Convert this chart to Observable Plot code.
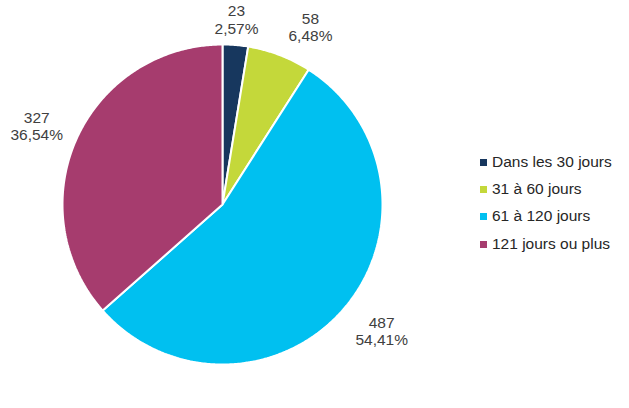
<!DOCTYPE html>
<html>
<head>
<meta charset="utf-8">
<script src="https://cdn.jsdelivr.net/npm/d3@7"></script>
<script src="https://cdn.jsdelivr.net/npm/@observablehq/plot@0.6"></script>
<style>
  html, body { margin: 0; padding: 0; background: #fff; }
  #wrap { position: relative; width: 629px; height: 408px; font-family: "Liberation Sans", Arial, sans-serif; }
  #legend { position: absolute; left: 480px; top: 148px; font-size: 15.5px; color: #262626; }
  #legend .row { display: flex; align-items: center; height: 27.3px; }
  #legend .sw { width: 7px; height: 7px; margin-right: 5px; margin-top: 1px; }
</style>
</head>
<body>
<div id="wrap"><div id="chart"></div><div id="legend"></div></div>
<script>
// Data
const categories = ["Dans les 30 jours", "31 à 60 jours", "61 à 120 jours", "121 jours ou plus"];
const counts = [23, 58, 487, 327];
const percents = ["2,57%", "6,48%", "54,41%", "36,54%"];
const colors = ["#17375e", "#c4d83a", "#00c0f0", "#a63c6e"];

// Layout (label placement: radius factor and angle shift in degrees)
const labelRadius = [1.16, 1.24, 1.27, 1.26];
const labelShift = [-0.3, 5.4, -2.1, -1.4];

const total = d3.sum(counts);
const polys = [];
const labels = [];
let acc = 0;
counts.forEach((v, i) => {
  const a0 = acc / total * 2 * Math.PI;
  acc += v;
  const a1 = acc / total * 2 * Math.PI;
  polys.push({k: categories[i], x: 0, y: 0});
  const n = Math.max(2, Math.ceil((a1 - a0) / 0.01));
  for (let j = 0; j <= n; j++) {
    const a = a0 + (a1 - a0) * j / n;
    polys.push({k: categories[i], x: Math.sin(a), y: Math.cos(a)});
  }
  const m = (a0 + a1) / 2 + labelShift[i] * Math.PI / 180;
  labels.push({k: categories[i], x: labelRadius[i] * Math.sin(m), y: labelRadius[i] * Math.cos(m), t: counts[i] + "\n" + percents[i]});
});

const chart = Plot.plot({
  width: 629,
  height: 408,
  margin: 0,
  style: {fontFamily: "Liberation Sans, Arial, sans-serif", fontSize: "15px", background: "#fff"},
  x: {domain: [-1, 1], range: [62, 382], axis: null},
  y: {domain: [-1, 1], range: [364, 44], axis: null},
  color: {domain: categories, range: colors},
  marks: [
    Plot.line(polys, {x: "x", y: "y", z: "k", fill: "k", stroke: "#fff", strokeWidth: 2, curve: "linear-closed", strokeLinejoin: "miter"}),
    Plot.text(labels, {x: "x", y: "y", text: "t", fill: "#404040", fontSize: 15.5, lineHeight: 1.12, textAnchor: "middle"})
  ]
});
document.getElementById("chart").appendChild(chart);

const legend = document.getElementById("legend");
categories.forEach((c, i) => {
  const row = document.createElement("div");
  row.className = "row";
  const sw = document.createElement("div");
  sw.className = "sw";
  sw.style.background = colors[i];
  const tx = document.createElement("span");
  tx.textContent = c;
  row.appendChild(sw);
  row.appendChild(tx);
  legend.appendChild(row);
});
</script>
</body>
</html>
